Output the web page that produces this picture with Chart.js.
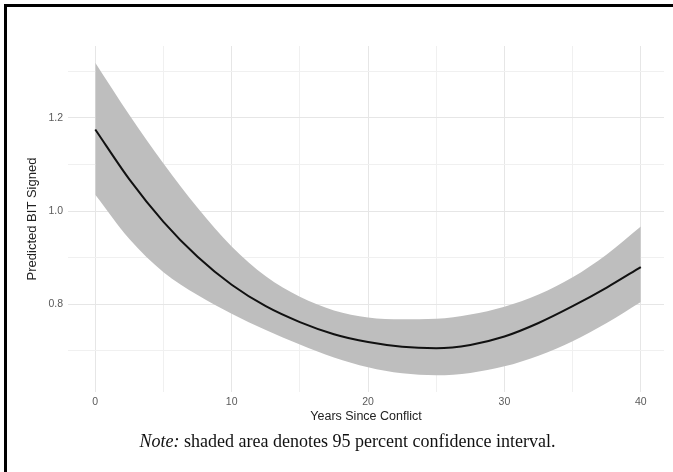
<!DOCTYPE html>
<html lang="en">
<head>
    <meta charset="UTF-8">
    <title>Predicted BIT Signed</title>
    <style>
        body {
            margin: 0;
            padding: 0;
            background-color: white;
        }

        .wrap {
            position: relative;
            width: 673px;
            height: 472px;
            overflow: hidden;
        }

        .frame {
            position: absolute;
            left: 4px;
            top: 4px;
            width: 700px;
            height: 500px;
            border-left: 3px solid #000;
            border-top: 3px solid #000;
        }

        canvas {
            position: absolute;
            left: 0;
            top: 0;
        }

        .note {
            position: absolute;
            left: 0;
            width: 695px;
            top: 431px;
            text-align: center;
            font-family: "Liberation Serif", "Times New Roman", serif;
            font-size: 18px;
            color: #111;
        }
    </style>
    <script src="https://cdn.jsdelivr.net/npm/chart.js"></script>
</head>
<body>
    <div class="wrap">
        <div class="frame"></div>
        <canvas id="chart" width="673" height="472"></canvas>
        <div class="note"><i>Note:</i> shaded area denotes 95 percent confidence interval.</div>
    </div>

    <script>
        // values
        const years = [0, 2.5, 5, 7.5, 10, 12.5, 15, 17.5, 20, 22.5, 25, 27.5, 30, 32.5, 35, 37.5, 40];
        const predicted = [1.175, 1.068, 0.977, 0.902, 0.842, 0.796, 0.762, 0.736, 0.719, 0.709, 0.706, 0.713, 0.731, 0.760, 0.796, 0.836, 0.880];
        const upperCI = [1.318, 1.206, 1.102, 1.007, 0.924, 0.860, 0.816, 0.787, 0.772, 0.768, 0.769, 0.778, 0.795, 0.821, 0.858, 0.907, 0.967];
        const lowerCI = [1.035, 0.940, 0.869, 0.820, 0.780, 0.745, 0.714, 0.686, 0.665, 0.652, 0.648, 0.653, 0.667, 0.690, 0.721, 0.760, 0.805];

        const xTicks = [0, 5, 10, 15, 20, 25, 30, 35, 40];
        const xLabels = [0, 10, 20, 30, 40];
        const yTicks = [0.7, 0.8, 0.9, 1.0, 1.1, 1.2, 1.3];
        const yLabels = [0.8, 1.0, 1.2];

        const pts = (ys) => years.map((x, i) => ({ x: x, y: ys[i] }));
        const near = (a, b) => Math.abs(a - b) < 1e-6;

        const sans = "Liberation Sans, Arial, sans-serif";

        const ctx = document.getElementById("chart").getContext("2d");
        new Chart(ctx, {
            type: "line",
            data: {
                datasets: [
                    {
                        label: "Predicted",
                        data: pts(predicted),
                        borderColor: "#111111",
                        borderWidth: 2,
                        pointRadius: 0,
                        cubicInterpolationMode: "monotone",
                        fill: false,
                    },
                    {
                        label: "Upper",
                        data: pts(upperCI),
                        borderWidth: 0,
                        borderColor: "rgba(0,0,0,0)",
                        backgroundColor: "#bebebe",
                        pointRadius: 0,
                        cubicInterpolationMode: "monotone",
                        fill: "+1",
                    },
                    {
                        label: "Lower",
                        data: pts(lowerCI),
                        borderWidth: 0,
                        borderColor: "rgba(0,0,0,0)",
                        pointRadius: 0,
                        cubicInterpolationMode: "monotone",
                        fill: false,
                    },
                ],
            },
            options: {
                responsive: false,
                animation: false,
                layout: {
                    padding: { left: 20, right: 9, top: 46, bottom: 48 },
                },
                plugins: {
                    legend: { display: false },
                    tooltip: { enabled: false },
                },
                scales: {
                    x: {
                        type: "linear",
                        min: -2,
                        max: 41.7,
                        afterFit: (scale) => { scale.height = 32; },
                        afterBuildTicks: (scale) => {
                            scale.ticks = xTicks.map((v) => ({ value: v }));
                        },
                        border: { display: false },
                        grid: {
                            drawTicks: false,
                            color: (c) => xLabels.includes(c.tick.value) ? "#e6e6e6" : "#f0f0f0",
                        },
                        ticks: {
                            padding: 4,
                            maxRotation: 0,
                            autoSkip: false,
                            color: "#5a5a5a",
                            font: { family: sans, size: 10.5 },
                            callback: (v) => xLabels.includes(v) ? String(v) : "",
                        },
                        title: {
                            display: true,
                            text: "Years Since Conflict",
                            color: "#222222",
                            padding: { top: 0, bottom: 0 },
                            font: { family: sans, size: 12.5 },
                        },
                    },
                    y: {
                        type: "linear",
                        min: 0.612,
                        max: 1.354,
                        afterFit: (scale) => { scale.width = 48; },
                        afterBuildTicks: (scale) => {
                            scale.ticks = yTicks.map((v) => ({ value: v }));
                        },
                        border: { display: false },
                        grid: {
                            drawTicks: false,
                            color: (c) => yLabels.some((l) => near(l, c.tick.value)) ? "#e6e6e6" : "#f0f0f0",
                        },
                        ticks: {
                            padding: 5,
                            autoSkip: false,
                            color: "#5a5a5a",
                            font: { family: sans, size: 10.5 },
                            callback: (v) => yLabels.some((l) => near(l, v)) ? v.toFixed(1) : "",
                        },
                        title: {
                            display: true,
                            text: "Predicted BIT Signed",
                            color: "#222222",
                            padding: { top: 5, bottom: 0 },
                            font: { family: sans, size: 13 },
                        },
                    },
                },
            },
        });
    </script>
</body>
</html>
